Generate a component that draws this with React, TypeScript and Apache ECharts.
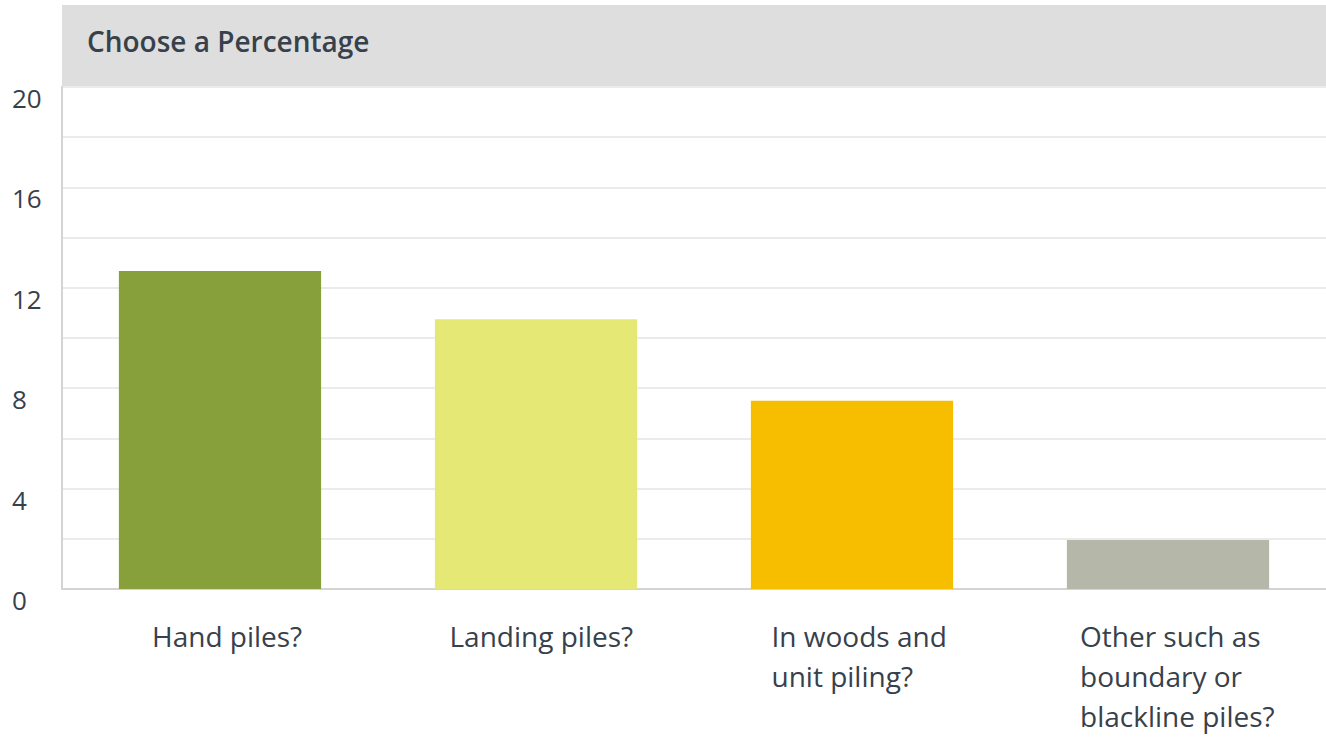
import React, { useEffect, useRef } from "react";
import * as echarts from "echarts";

const categories = [
  "Hand piles?",
  "Landing piles?",
  "In woods and\nunit piling?",
  "Other such as\nboundary or\nblackline piles?",
];
const values = [12.67, 10.75, 7.5, 1.95];
const barColors = ["#87a03b", "#e6e876", "#f7be00", "#b5b7a8"];
const labelWidths = [156, 193, 181, 196];
const titleText = "Choose a Percentage";

const FONT = "'Open Sans', 'Noto Sans', sans-serif";
const TEXT = "#37414b";

export default function App() {
  const ref = useRef<HTMLDivElement>(null);
  useEffect(() => {
    if (!ref.current) return;
    const chart = echarts.init(ref.current, undefined, { renderer: "svg" });
    const rich: Record<string, any> = {};
    labelWidths.forEach((w, i) => {
      rich["c" + i] = {
        width: w,
        align: "left",
        fontSize: 28,
        lineHeight: 40,
        color: TEXT,
        fontFamily: FONT,
      };
    });
    chart.setOption({
      animation: false,
      backgroundColor: "#ffffff",
      title: {
        text: titleText,
        left: 82,
        top: 22,
        textStyle: {
          fontFamily: FONT,
          fontSize: 28,
          fontWeight: 600,
          color: TEXT,
        },
      },
      graphic: [
        {
          type: "rect",
          z: -10,
          shape: { x: 62, y: 5, width: 1264, height: 82 },
          style: { fill: "#dedede" },
        },
      ],
      grid: { left: 62, right: -4, top: 87, bottom: 148, containLabel: false },
      xAxis: {
        type: "category",
        data: categories,
        axisLine: { lineStyle: { color: "#d4d4d4", width: 2 } },
        axisTick: { show: false },
        axisLabel: {
          interval: 0,
          margin: 27,
          verticalAlign: "top",
          padding: [0, 0, 0, 20],
          formatter: (v: string) => {
            const i = categories.indexOf(v);
            return v
              .split("\n")
              .map((l) => `{c${i}|${l}}`)
              .join("\n");
          },
          rich,
        },
      },
      yAxis: {
        type: "value",
        min: 0,
        max: 20,
        interval: 2,
        axisLine: { show: true, lineStyle: { color: "#d4d4d4", width: 2 } },
        axisTick: { show: false },
        splitLine: { lineStyle: { color: "#ebebeb", width: 2 } },
        axisLabel: {
          align: "left",
          verticalAlign: "top",
          margin: 50,
          fontSize: 26,
          lineHeight: 22,
          fontFamily: FONT,
          color: TEXT,
          formatter: (v: number) => (v % 4 === 0 ? String(v) : ""),
        },
      },
      series: [
        {
          type: "bar",
          barWidth: "64%",
          data: values.map((v, i) => ({ value: v, itemStyle: { color: barColors[i] } })),
        },
      ],
    });
    return () => chart.dispose();
  }, []);
  return (
    <div
      ref={ref}
      style={{ position: "fixed", left: 0, top: 0, width: 1326, height: 737 }}
    />
  );
}
